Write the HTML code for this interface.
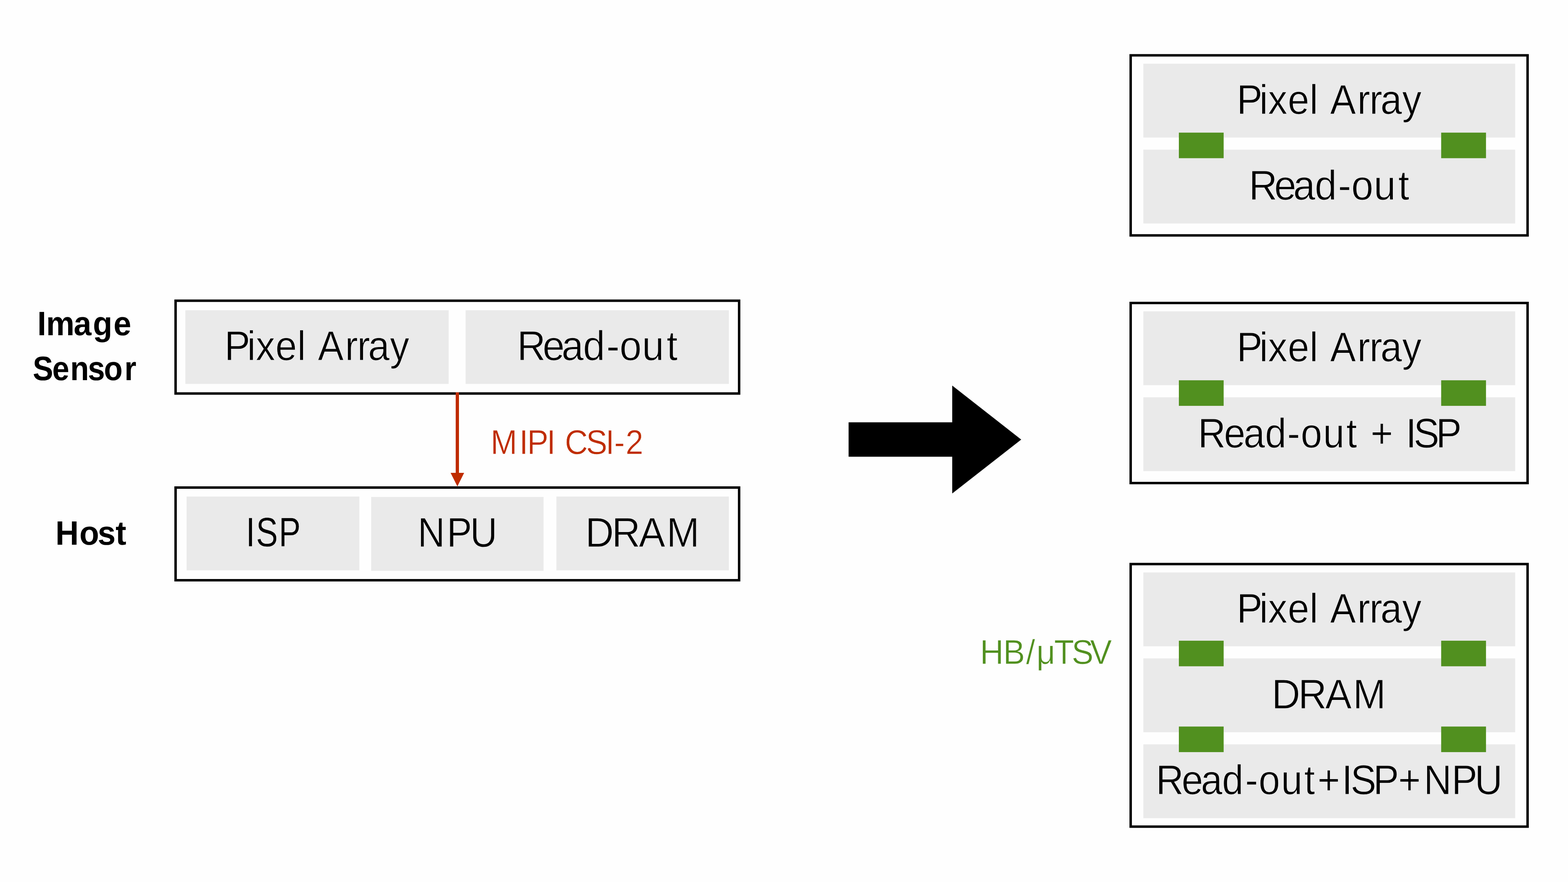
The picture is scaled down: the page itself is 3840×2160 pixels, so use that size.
<!DOCTYPE html>
<html lang="en"><head><meta charset="utf-8"><title>Image sensor stacking</title>
<style>
html,body{margin:0;padding:0;background:#fefefe;}
body{width:3840px;height:2160px;overflow:hidden;}
svg{display:block;}
text{font-family:"Liberation Sans",sans-serif;font-size:100px;white-space:pre;text-rendering:geometricPrecision;}
</style></head><body>
<svg width="3840" height="2160" viewBox="0 0 3840 2160">
<rect width="3840" height="2160" fill="#fefefe"/>
<rect x="430.00" y="736.45" width="1380.10" height="227.25" fill="none" stroke="#000" stroke-width="6.00"/>
<rect x="453.85" y="759.80" width="644.95" height="180.40" fill="#EAEAEA"/>
<rect x="1140.20" y="759.80" width="644.90" height="180.40" fill="#EAEAEA"/>
<rect x="430.00" y="1194.00" width="1380.10" height="227.00" fill="none" stroke="#000" stroke-width="6.00"/>
<rect x="457.00" y="1216.00" width="423.00" height="180.80" fill="#EAEAEA"/>
<rect x="909.00" y="1217.00" width="422.10" height="180.90" fill="#EAEAEA"/>
<rect x="1362.60" y="1216.00" width="422.50" height="180.80" fill="#EAEAEA"/>
<rect x="1116.00" y="961.00" width="8.00" height="199.00" fill="#BF2C00"/>
<polygon points="1103.5,1158 1136.7,1158 1120.1,1191.2" fill="#BF2C00"/>
<polygon points="2078.2,1034.2 2332,1034.2 2332,944.3 2500.9,1076.4 2332,1208.4 2332,1118.5 2078.2,1118.5" fill="#000"/>
<rect x="2769.00" y="135.50" width="972.00" height="441.00" fill="none" stroke="#000" stroke-width="6.00"/>
<rect x="2800.00" y="156.00" width="910.60" height="180.80" fill="#EAEAEA"/>
<rect x="2800.00" y="366.50" width="910.60" height="180.80" fill="#EAEAEA"/>
<rect x="2887.00" y="324.80" width="109.70" height="62.60" fill="#51901F"/>
<rect x="3529.40" y="324.80" width="109.80" height="62.60" fill="#51901F"/>
<rect x="2769.00" y="742.00" width="972.00" height="441.00" fill="none" stroke="#000" stroke-width="6.00"/>
<rect x="2800.00" y="762.50" width="910.60" height="180.80" fill="#EAEAEA"/>
<rect x="2800.00" y="973.00" width="910.60" height="180.80" fill="#EAEAEA"/>
<rect x="2887.00" y="931.30" width="109.70" height="62.60" fill="#51901F"/>
<rect x="3529.40" y="931.30" width="109.80" height="62.60" fill="#51901F"/>
<rect x="2769.00" y="1381.40" width="972.00" height="643.00" fill="none" stroke="#000" stroke-width="6.00"/>
<rect x="2800.00" y="1401.90" width="910.60" height="180.80" fill="#EAEAEA"/>
<rect x="2800.00" y="1612.40" width="910.60" height="180.80" fill="#EAEAEA"/>
<rect x="2800.00" y="1822.90" width="910.60" height="180.80" fill="#EAEAEA"/>
<rect x="2887.00" y="1569.10" width="109.70" height="62.60" fill="#51901F"/>
<rect x="3529.40" y="1569.10" width="109.80" height="62.60" fill="#51901F"/>
<rect x="2887.00" y="1779.30" width="109.70" height="62.60" fill="#51901F"/>
<rect x="3529.40" y="1779.30" width="109.80" height="62.60" fill="#51901F"/>
<text transform="translate(0 882) scale(0.9442 1.0195)" x="582.15 640.96 663.51 714.47 770.98 790.98 824.43 894.83 926.47 954.92 1011.33" y="0" fill="#000" stroke="#EAEAEA" stroke-width="1.07">Pixel Array</text>
<text transform="translate(0 882) scale(0.9717 1.0212)" x="1303.23 1367.43 1415.23 1469.40 1528.16 1561.56 1618.03 1680.03" y="0" fill="#000" stroke="#EAEAEA" stroke-width="1.18">Read-out</text>
<text transform="translate(0 1338) scale(0.8024 1.0075)" x="750.59 781.32 850.93" y="0" fill="#000" stroke="#EAEAEA" stroke-width="0.36">ISP</text>
<text transform="translate(0 1339) scale(0.9231 1.0181)" x="1108.14 1185.32 1247.18" y="0" fill="#000" stroke="#EAEAEA" stroke-width="0.98">NPU</text>
<text transform="translate(0 1339) scale(0.9702 1.0183)" x="1477.32 1544.30 1612.55 1682.47" y="0" fill="#000" stroke="#EAEAEA" stroke-width="1.19">DRAM</text>
<text transform="translate(0 1112) scale(0.7813 0.8459)" x="1537.70 1627.81 1652.38 1713.69 1733.69 1770.58 1837.16 1898.00 1925.44 1960.93" y="0" fill="#BF2C00" stroke="#fefefe" stroke-width="1.00">MIPI CSI-2</text>
<text transform="translate(0 1626) scale(0.8009 0.8444)" x="2996.66 3067.44 3137.37 3169.25 3223.31 3277.07 3333.16" y="0" fill="#51901F" stroke="#fefefe" stroke-width="1.00">HB/μTSV</text>
<text transform="translate(0 821) scale(0.7800 0.8300)" x="117.28 144.89 231.37 291.64 356.51" y="0" fill="#000" font-weight="700">Image</text>
<text transform="translate(0 931) scale(0.7499 0.8300)" x="106.87 170.58 229.23 287.00 339.44 406.39" y="0" fill="#000" font-weight="700">Sensor</text>
<text transform="translate(0 1334) scale(0.7904 0.8285)" x="171.70 245.97 302.57 358.11" y="0" fill="#000" font-weight="700">Host</text>
<text transform="translate(0 279) scale(0.9442 1.0195)" x="3207.71 3266.53 3289.07 3340.03 3396.54 3416.54 3450.00 3520.39 3552.04 3580.48 3636.90" y="0" fill="#000" stroke="#EAEAEA" stroke-width="1.07">Pixel Array</text>
<text transform="translate(0 489) scale(0.9717 1.0212)" x="3147.31 3211.51 3259.31 3313.47 3372.24 3405.64 3462.11 3524.10" y="0" fill="#000" stroke="#EAEAEA" stroke-width="1.18">Read-out</text>
<text transform="translate(0 885) scale(0.9442 1.0195)" x="3207.71 3266.53 3289.07 3340.03 3396.54 3416.54 3450.00 3520.39 3552.04 3580.48 3636.90" y="0" fill="#000" stroke="#EAEAEA" stroke-width="1.07">Pixel Array</text>
<text transform="translate(0 1096) scale(0.9410 1.0193)" x="3117.79 3185.38 3236.56 3292.24 3350.27 3385.12 3443.44 3503.65 3523.65 3567.03 3587.03 3658.51 3679.06 3737.22" y="0" fill="#000" stroke="#EAEAEA" stroke-width="1.06">Read-out + ISP</text>
<text transform="translate(0 1525) scale(0.9442 1.0195)" x="3207.71 3266.53 3289.07 3340.03 3396.54 3416.54 3450.00 3520.39 3552.04 3580.48 3636.90" y="0" fill="#000" stroke="#EAEAEA" stroke-width="1.07">Pixel Array</text>
<text transform="translate(0 1735) scale(0.9702 1.0183)" x="3209.86 3276.84 3345.10 3415.02" y="0" fill="#000" stroke="#EAEAEA" stroke-width="1.19">DRAM</text>
<text transform="translate(0 1945) scale(0.9447 1.0195)" x="2996.57 3063.06 3113.15 3167.95 3228.11 3262.79 3320.87 3380.90 3415.28 3478.26 3501.22 3559.80 3624.67 3690.97 3763.00 3822.82" y="0" fill="#000" stroke="#EAEAEA" stroke-width="1.07">Read-out+ISP+NPU</text>
</svg>
</body></html>
